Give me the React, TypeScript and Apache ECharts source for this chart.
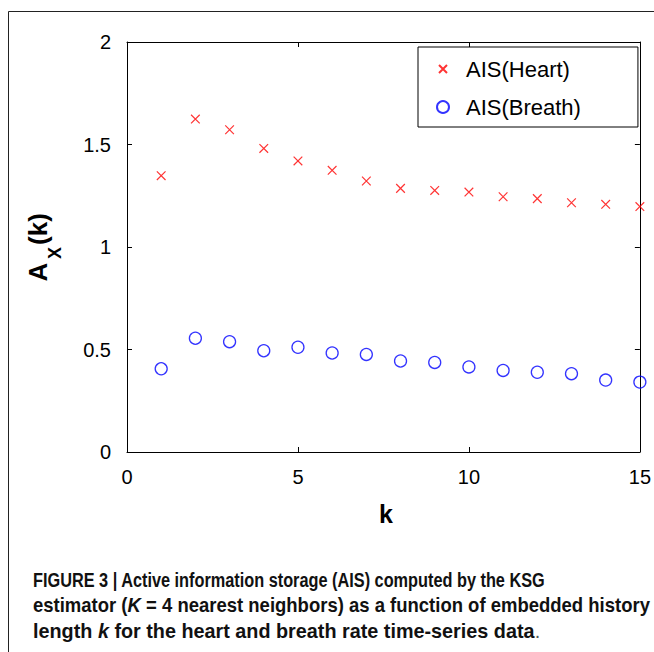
import React, { useEffect, useRef } from "react";
import * as echarts from "echarts";

const kValues = [1, 2, 3, 4, 5, 6, 7, 8, 9, 10, 11, 12, 13, 14, 15];
const heartAIS = [1.348, 1.624, 1.572, 1.481, 1.42, 1.374, 1.322, 1.286, 1.276, 1.268, 1.245, 1.236, 1.216, 1.208, 1.197];
const breathAIS = [0.406, 0.555, 0.538, 0.494, 0.511, 0.483, 0.476, 0.444, 0.437, 0.415, 0.398, 0.389, 0.382, 0.351, 0.341];
const seriesNames = ["AIS(Heart)", "AIS(Breath)"];
const xTicks = { min: 0, max: 15, interval: 5 };
const yTicks = { min: 0, max: 2, interval: 0.5 };
const captionLines = [
  "FIGURE 3 | Active information storage (AIS) computed by the KSG",
  "estimator ({i|K} = 4 nearest neighbors) as a function of embedded history",
  "length {i|k} for the heart and breath rate time-series data{p|.}",
];
const captionScale = [0.815, 0.925, 0.99];

const SANS = "'Liberation Sans', Arial, Helvetica, sans-serif";
const CROSS = "path://M-2,-2M0,0L8,8M8,0L0,8M10,10";

export default function App() {
  const ref = useRef<HTMLDivElement>(null);
  useEffect(() => {
    if (!ref.current) return;
    const chart = echarts.init(ref.current, null, { renderer: "svg" });
    const axisCommon = {
      axisLine: { show: true, onZero: false, lineStyle: { color: "#000", width: 1 } },
      axisTick: { show: true, inside: true, length: 5, lineStyle: { color: "#000" } },
      splitLine: { show: false },
    };
    chart.setOption({
      animation: false,
      backgroundColor: "#fff",
      grid: { left: 127, top: 42, width: 516, height: 410, containLabel: false },
      xAxis: [
        {
          type: "value", position: "bottom", ...xTicks, ...axisCommon,
          axisLabel: { show: true, margin: 15, fontSize: 20, fontFamily: SANS, color: "#000" },
        },
        {
          type: "value", position: "top", ...xTicks, ...axisCommon,
          axisLabel: { show: false },
        },
      ],
      yAxis: [
        {
          type: "value", position: "left", ...yTicks, ...axisCommon,
          axisLabel: { show: true, margin: 16, fontSize: 20, fontFamily: SANS, color: "#000" },
        },
        {
          type: "value", position: "right", ...yTicks, ...axisCommon,
          axisLabel: { show: false },
        },
      ],
      legend: {
        orient: "vertical",
        left: 418,
        top: 47,
        padding: [10, 57, 8, 18],
        itemGap: 14,
        itemWidth: 36,
        itemHeight: 12,
        backgroundColor: "#fff",
        borderColor: "#000",
        borderWidth: 1,
        borderRadius: 0,
        data: seriesNames,
        textStyle: { fontSize: 22, lineHeight: 24, fontFamily: SANS, color: "#000" },
      },
      series: [
        {
          name: seriesNames[0],
          type: "scatter",
          symbol: CROSS,
          symbolSize: 13,
          itemStyle: { color: "rgba(0,0,0,0)", borderColor: "#ff0000", borderWidth: 1.2 },
          data: kValues.map((k, i) => [k, heartAIS[i]]),
          z: 3,
        },
        {
          name: seriesNames[1],
          type: "scatter",
          symbol: "circle",
          symbolSize: 12,
          itemStyle: { color: "rgba(0,0,0,0)", borderColor: "#0000ff", borderWidth: 1.3 },
          data: kValues.map((k, i) => [k, breathAIS[i]]),
          z: 3,
        },
      ],
      graphic: [
        {
          type: "rect", z: -10, silent: true,
          shape: { x: 8.5, y: 11.5, width: 900, height: 900 },
          style: { fill: "none", stroke: "#222", lineWidth: 1 },
        },
        {
          type: "text", x: 386, y: 514,
          style: { text: "k", font: `bold 25px ${SANS}`, fill: "#000", align: "center", verticalAlign: "middle" },
        },
        {
          type: "text", x: 37.5, y: 272, rotation: Math.PI / 2,
          style: { text: "A", font: `bold 26px ${SANS}`, fill: "#000", align: "center", verticalAlign: "middle" },
        },
        {
          type: "text", x: 55, y: 253, rotation: Math.PI / 2,
          style: { text: "X", font: `bold 18px ${SANS}`, fill: "#000", align: "center", verticalAlign: "middle" },
        },
        {
          type: "text", x: 37.5, y: 229, rotation: Math.PI / 2,
          style: { text: "(k)", font: `bold 26px ${SANS}`, fill: "#000", align: "center", verticalAlign: "middle" },
        },
        ...captionLines.map((line, i) => ({
          type: "text",
          x: 33,
          y: 580 + i * 25.5,
          scaleX: captionScale[i],
          style: {
            text: line,
            font: `bold 20px ${SANS}`,
            fill: "#111",
            align: "left",
            verticalAlign: "middle",
            rich: {
              i: { fontStyle: "italic", fontWeight: "bold", fontSize: 20, fontFamily: SANS, fill: "#111" },
              p: { fontWeight: "normal", fontSize: 20, fontFamily: SANS, fill: "#555" },
            },
          },
        })),
      ],
    });
    return () => chart.dispose();
  }, []);
  return (
    <div
      ref={ref}
      style={{ position: "fixed", left: 0, top: 0, width: 654, height: 652, background: "#fff" }}
    />
  );
}
